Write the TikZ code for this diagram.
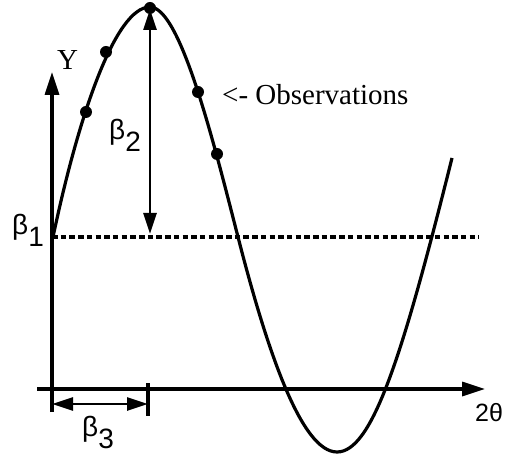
\documentclass[tikz,border=0pt]{standalone}
\usepackage{fontspec}
\setmainfont{Liberation Serif}
\newfontfamily\symfont{Liberation Sans}
\usetikzlibrary{arrows.meta}
\newcommand{\lowsub}[1]{\raisebox{-12pt}{#1}}
\begin{document}
\begin{tikzpicture}[x=1pt,y=-1pt,
  axis/.style={line width=3.3pt},
  bigtip/.style={-{Triangle[length=23pt,width=14pt]}},
  twotip/.style={{Triangle[length=21pt,width=13pt]}-{Triangle[length=21pt,width=13pt]}},
  curve/.style={line width=3.2pt},
  dashline/.style={line width=3.2pt,dash pattern=on 5.5pt off 3.2pt},
  dot/.style={circle,fill=black,inner sep=0pt,minimum size=12pt},
  lab/.style={inner sep=0pt,anchor=base west,font=\fontsize{29}{31}\selectfont},
  greek/.style={inner sep=0pt,anchor=base west,font=\symfont\fontsize{28}{30}\selectfont},
  axlab/.style={inner sep=0pt,anchor=base west}
]
\useasboundingbox (0,0) rectangle (506,454);
% coordinates
\coordinate (ybot) at (52,412);
\coordinate (ytop) at (52,72);
\coordinate (xleft) at (37,389);
\coordinate (xright) at (485,389);
\coordinate (b3l) at (52,404);
\coordinate (b3r) at (148,404);
\coordinate (tickt) at (148,383);
\coordinate (tickb) at (148,416);
\coordinate (b2t) at (150,9);
\coordinate (b2b) at (150,234);
\coordinate (dl) at (52,237);
\coordinate (dr) at (479,237);
\coordinate (c0) at (53,237);
\coordinate (peak) at (150,7);
\coordinate (inf1) at (238,237);
\coordinate (trough) at (337,452);
\coordinate (cend) at (452,158);
% axes
\draw[axis,bigtip] (ybot) -- (ytop);
\draw[axis,bigtip] (xleft) -- (xright);
% dashed baseline
\draw[dashline] (dl) -- (dr);
% curve
\draw[curve] (c0) .. controls (78,118) and (115,7) .. (peak)
  .. controls (180,7) and (213,139.5) .. (inf1)
  .. controls (268,354) and (302,452) .. (trough)
  .. controls (372,452) and (402,358) .. (cend);
% observations
\node[dot] (o1) at (86,112) {};
\node[dot] (o2) at (106,52) {};
\node[dot] (o3) at (150,8) {};
\node[dot] (o4) at (198,92) {};
\node[dot] (o5) at (217,154) {};
% beta2 arrow
\draw[line width=2.8pt,twotip] (b2t) -- (b2b);
% beta3 arrow and tick
\draw[line width=2.8pt,twotip] (b3l) -- (b3r);
\draw[line width=3.3pt] (tickt) -- (tickb);
% labels
\node[lab] (ylab) at (57,70) {Y};
\node[lab] (obs) at (222,105) {<- Observations};
\node[greek] (beta1) at (12,235) {β\lowsub{1}};
\node[greek] (beta2) at (109,140) {β\lowsub{2}};
\node[greek] (beta3) at (82,436) {β\lowsub{3}};
\node[axlab] (theta) at (475,421) {\symfont\fontsize{25}{27}\selectfont 2θ};
\end{tikzpicture}
\end{document}
